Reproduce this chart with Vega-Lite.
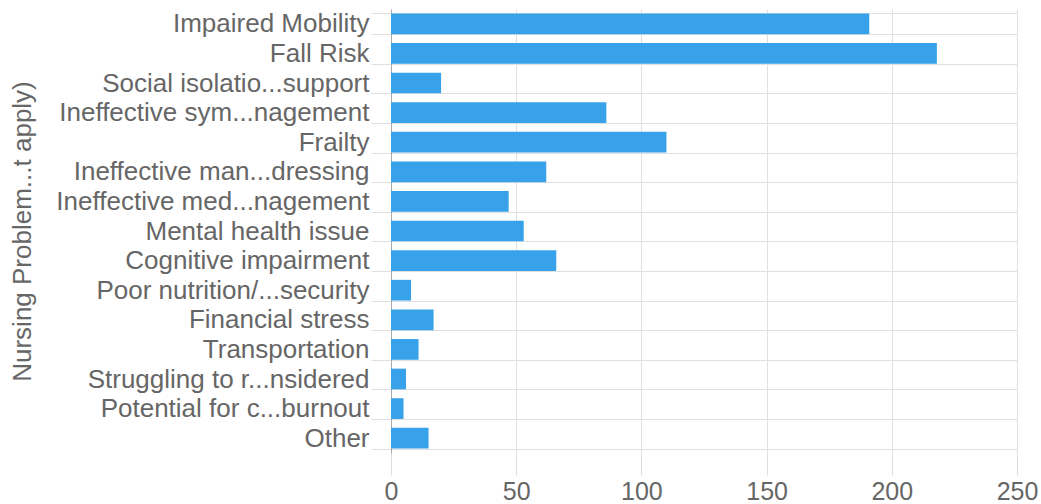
{
  "$schema": "https://vega.github.io/schema/vega-lite/v6.json",
  "autosize": "none",
  "padding": {"left": 391, "top": 9, "right": 24, "bottom": 51},
  "width": 626,
  "height": 444,
  "background": "white",
  "config": {
    "view": {"stroke": null},
    "font": "Liberation Sans",
    "axis": {
      "labelFont": "Liberation Sans",
      "titleFont": "Liberation Sans",
      "labelColor": "#666666",
      "titleColor": "#666666",
      "labelFontSize": 26,
      "titleFontSize": 26,
      "titleFontWeight": "normal",
      "gridColor": "#e0e0e0",
      "tickColor": "#e0e0e0",
      "domainColor": "#aaaaaa"
    }
  },
  "data": {
    "values": [
      {"problem": "Impaired Mobility", "count": 191},
      {"problem": "Fall Risk", "count": 218},
      {"problem": "Social isolatio...support", "count": 20},
      {"problem": "Ineffective sym...nagement", "count": 86},
      {"problem": "Frailty", "count": 110},
      {"problem": "Ineffective man...dressing", "count": 62},
      {"problem": "Ineffective med...nagement", "count": 47},
      {"problem": "Mental health issue", "count": 53},
      {"problem": "Cognitive impairment", "count": 66},
      {"problem": "Poor nutrition/...security", "count": 8},
      {"problem": "Financial stress", "count": 17},
      {"problem": "Transportation", "count": 11},
      {"problem": "Struggling to r...nsidered", "count": 6},
      {"problem": "Potential for c...burnout", "count": 5},
      {"problem": "Other", "count": 15}
    ]
  },
  "mark": {"type": "bar", "color": "#37a2e9"},
  "encoding": {
    "y": {
      "field": "problem",
      "type": "nominal",
      "sort": null,
      "title": "Nursing Problem...t apply)",
      "scale": {"paddingInner": 0.3, "paddingOuter": 0.15},
      "axis": {
        "grid": true,
        "tickBand": "extent",
        "tickSize": 20,
        "labelPadding": 2,
        "labelLimit": 0,
        "domain": true,
        "titleX": -369,
        "titleY": 222,
        "titleAngle": -90,
        "titleAlign": "center",
        "titleBaseline": "middle"
      }
    },
    "x": {
      "field": "count",
      "type": "quantitative",
      "title": null,
      "scale": {"domain": [0, 250], "nice": false},
      "axis": {
        "values": [0, 50, 100, 150, 200, 250],
        "tickSize": 22,
        "tickColor": "#dddddd",
        "labelPadding": 4,
        "labelFlush": false,
        "labelFontSize": 25,
        "domain": false
      }
    }
  }
}
